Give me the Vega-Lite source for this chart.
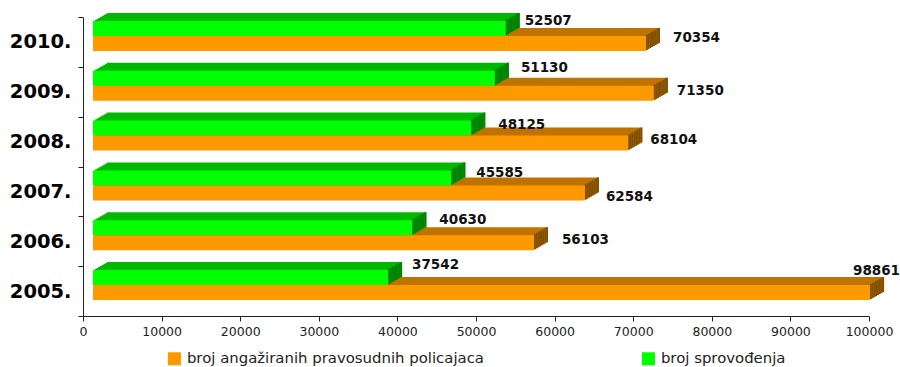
{"$schema":"https://vega.github.io/schema/vega-lite/v6.json","width":786,"height":299,"autosize":{"type":"none"},"padding":{"left":83,"top":17,"right":31,"bottom":51},"background":"white",
"config":{"view":{"stroke":null},"bar":{"stroke":null},"tick":{"opacity":1}},
"data":{"values":[
{"year":"2010.","series":"broj angažiranih pravosudnih policajaca","value":70354},{"year":"2009.","series":"broj angažiranih pravosudnih policajaca","value":71350},{"year":"2008.","series":"broj angažiranih pravosudnih policajaca","value":68104},{"year":"2007.","series":"broj angažiranih pravosudnih policajaca","value":62584},{"year":"2006.","series":"broj angažiranih pravosudnih policajaca","value":56103},{"year":"2005.","series":"broj angažiranih pravosudnih policajaca","value":98861},
{"year":"2010.","series":"broj sprovođenja","value":52507},{"year":"2009.","series":"broj sprovođenja","value":51130},{"year":"2008.","series":"broj sprovođenja","value":48125},{"year":"2007.","series":"broj sprovođenja","value":45585},{"year":"2006.","series":"broj sprovođenja","value":40630},{"year":"2005.","series":"broj sprovođenja","value":37542}]},
"encoding":{
"x":{"field":"value","type":"quantitative","title":null,"scale":{"domain":[0,100000],"nice":false},"axis":{"values":[0,10000,20000,30000,40000,50000,60000,70000,80000,90000,100000],"format":"d","grid":false,"tickSize":5,"tickColor":"#222","domainColor":"#222","labelColor":"#222","labelFont":"DejaVu Sans","labelFontSize":12.5,"labelPadding":4,"labelFlush":false,"labelOverlap":false}},
"y":{"field":"year","type":"nominal","title":null,"sort":["2010.","2009.","2008.","2007.","2006.","2005."],"scale":{"paddingInner":0,"paddingOuter":0},"axis":{"tickBand":"extent","tickSize":5,"tickColor":"#222","domainColor":"#222","labelColor":"#000","labelFont":"DejaVu Sans","labelFontWeight":"bold","labelFontSize":19.5,"labelPadding":7,"labelAngle":0}}},
"layer":[
{"transform":[{"filter":"datum.series=='broj angažiranih pravosudnih policajaca'"}],"layer":[
{"mark":{"type":"bar","size":15,"color":"#BF7300","xOffset":24,"x2Offset":24,"yOffset":-6.5}},{"mark":{"type":"tick","size":15,"thickness":2,"color":"#805000","xOffset":23,"yOffset":-6.5}},
{"mark":{"type":"bar","size":15,"color":"#BF7300","xOffset":22.25,"x2Offset":22.25,"yOffset":-5.5}},{"mark":{"type":"tick","size":15,"thickness":2,"color":"#805000","xOffset":21.25,"yOffset":-5.5}},
{"mark":{"type":"bar","size":15,"color":"#BF7300","xOffset":20.5,"x2Offset":20.5,"yOffset":-4.5}},{"mark":{"type":"tick","size":15,"thickness":2,"color":"#805000","xOffset":19.5,"yOffset":-4.5}},
{"mark":{"type":"bar","size":15,"color":"#BF7300","xOffset":18.75,"x2Offset":18.75,"yOffset":-3.5}},{"mark":{"type":"tick","size":15,"thickness":2,"color":"#805000","xOffset":17.75,"yOffset":-3.5}},
{"mark":{"type":"bar","size":15,"color":"#BF7300","xOffset":17,"x2Offset":17,"yOffset":-2.5}},{"mark":{"type":"tick","size":15,"thickness":2,"color":"#805000","xOffset":16,"yOffset":-2.5}},
{"mark":{"type":"bar","size":15,"color":"#BF7300","xOffset":15.25,"x2Offset":15.25,"yOffset":-1.5}},{"mark":{"type":"tick","size":15,"thickness":2,"color":"#805000","xOffset":14.25,"yOffset":-1.5}},
{"mark":{"type":"bar","size":15,"color":"#BF7300","xOffset":13.5,"x2Offset":13.5,"yOffset":-0.5}},{"mark":{"type":"tick","size":15,"thickness":2,"color":"#805000","xOffset":12.5,"yOffset":-0.5}},
{"mark":{"type":"bar","size":15,"color":"#BF7300","xOffset":11.75,"x2Offset":11.75,"yOffset":0.5}},{"mark":{"type":"tick","size":15,"thickness":2,"color":"#805000","xOffset":10.75,"yOffset":0.5}},
{"mark":{"type":"bar","size":15,"xOffset":10,"x2Offset":10,"yOffset":1.5},"encoding":{"color":{"field":"series","type":"nominal","scale":{"domain":["broj angažiranih pravosudnih policajaca","broj sprovođenja"],"range":["#FF9900","#00FF00"]},"legend":{"title":null,"orient":"none","legendX":84,"legendY":334,"direction":"horizontal","columns":2,"columnPadding":157,"symbolType":"square","symbolSize":169,"symbolStrokeWidth":0,"labelFont":"DejaVu Sans","labelFontSize":14.9,"labelColor":"#222","labelLimit":400,"labelOffset":5,"padding":0}}}}
]},
{"transform":[{"filter":"datum.series=='broj sprovođenja'"}],"layer":[
{"mark":{"type":"bar","size":15,"color":"#00B800","xOffset":24,"x2Offset":24,"yOffset":-21.5}},{"mark":{"type":"tick","size":15,"thickness":2,"color":"#008000","xOffset":23,"yOffset":-21.5}},
{"mark":{"type":"bar","size":15,"color":"#00B800","xOffset":22.25,"x2Offset":22.25,"yOffset":-20.5}},{"mark":{"type":"tick","size":15,"thickness":2,"color":"#008000","xOffset":21.25,"yOffset":-20.5}},
{"mark":{"type":"bar","size":15,"color":"#00B800","xOffset":20.5,"x2Offset":20.5,"yOffset":-19.5}},{"mark":{"type":"tick","size":15,"thickness":2,"color":"#008000","xOffset":19.5,"yOffset":-19.5}},
{"mark":{"type":"bar","size":15,"color":"#00B800","xOffset":18.75,"x2Offset":18.75,"yOffset":-18.5}},{"mark":{"type":"tick","size":15,"thickness":2,"color":"#008000","xOffset":17.75,"yOffset":-18.5}},
{"mark":{"type":"bar","size":15,"color":"#00B800","xOffset":17,"x2Offset":17,"yOffset":-17.5}},{"mark":{"type":"tick","size":15,"thickness":2,"color":"#008000","xOffset":16,"yOffset":-17.5}},
{"mark":{"type":"bar","size":15,"color":"#00B800","xOffset":15.25,"x2Offset":15.25,"yOffset":-16.5}},{"mark":{"type":"tick","size":15,"thickness":2,"color":"#008000","xOffset":14.25,"yOffset":-16.5}},
{"mark":{"type":"bar","size":15,"color":"#00B800","xOffset":13.5,"x2Offset":13.5,"yOffset":-15.5}},{"mark":{"type":"tick","size":15,"thickness":2,"color":"#008000","xOffset":12.5,"yOffset":-15.5}},
{"mark":{"type":"bar","size":15,"color":"#00B800","xOffset":11.75,"x2Offset":11.75,"yOffset":-14.5}},{"mark":{"type":"tick","size":15,"thickness":2,"color":"#008000","xOffset":10.75,"yOffset":-14.5}},
{"mark":{"type":"bar","size":15,"xOffset":10,"x2Offset":10,"yOffset":-13.5},"encoding":{"color":{"field":"series","type":"nominal"}}}
]},
{"transform":[{"filter":"datum.value==52507"}],"mark":{"type":"text","align":"left","baseline":"middle","font":"DejaVu Sans","fontWeight":"bold","fontSize":13.5,"color":"#111","dx":29,"dy":-21},"encoding":{"text":{"field":"value","type":"nominal"}}},
{"transform":[{"filter":"datum.value==70354"}],"mark":{"type":"text","align":"left","baseline":"middle","font":"DejaVu Sans","fontWeight":"bold","fontSize":13.5,"color":"#111","dx":37,"dy":-4},"encoding":{"text":{"field":"value","type":"nominal"}}},
{"transform":[{"filter":"datum.value==51130"}],"mark":{"type":"text","align":"left","baseline":"middle","font":"DejaVu Sans","fontWeight":"bold","fontSize":13.5,"color":"#111","dx":36,"dy":-24},"encoding":{"text":{"field":"value","type":"nominal"}}},
{"transform":[{"filter":"datum.value==71350"}],"mark":{"type":"text","align":"left","baseline":"middle","font":"DejaVu Sans","fontWeight":"bold","fontSize":13.5,"color":"#111","dx":33,"dy":-1},"encoding":{"text":{"field":"value","type":"nominal"}}},
{"transform":[{"filter":"datum.value==48125"}],"mark":{"type":"text","align":"left","baseline":"middle","font":"DejaVu Sans","fontWeight":"bold","fontSize":13.5,"color":"#111","dx":37,"dy":-17},"encoding":{"text":{"field":"value","type":"nominal"}}},
{"transform":[{"filter":"datum.value==68104"}],"mark":{"type":"text","align":"left","baseline":"middle","font":"DejaVu Sans","fontWeight":"bold","fontSize":13.5,"color":"#111","dx":32,"dy":-2},"encoding":{"text":{"field":"value","type":"nominal"}}},
{"transform":[{"filter":"datum.value==45585"}],"mark":{"type":"text","align":"left","baseline":"middle","font":"DejaVu Sans","fontWeight":"bold","fontSize":13.5,"color":"#111","dx":35,"dy":-18},"encoding":{"text":{"field":"value","type":"nominal"}}},
{"transform":[{"filter":"datum.value==62584"}],"mark":{"type":"text","align":"left","baseline":"middle","font":"DejaVu Sans","fontWeight":"bold","fontSize":13.5,"color":"#111","dx":31,"dy":6},"encoding":{"text":{"field":"value","type":"nominal"}}},
{"transform":[{"filter":"datum.value==40630"}],"mark":{"type":"text","align":"left","baseline":"middle","font":"DejaVu Sans","fontWeight":"bold","fontSize":13.5,"color":"#111","dx":37,"dy":-21},"encoding":{"text":{"field":"value","type":"nominal"}}},
{"transform":[{"filter":"datum.value==56103"}],"mark":{"type":"text","align":"left","baseline":"middle","font":"DejaVu Sans","fontWeight":"bold","fontSize":13.5,"color":"#111","dx":38,"dy":-1},"encoding":{"text":{"field":"value","type":"nominal"}}},
{"transform":[{"filter":"datum.value==37542"}],"mark":{"type":"text","align":"left","baseline":"middle","font":"DejaVu Sans","fontWeight":"bold","fontSize":13.5,"color":"#111","dx":34,"dy":-26},"encoding":{"text":{"field":"value","type":"nominal"}}},
{"transform":[{"filter":"datum.value==98861"}],"mark":{"type":"text","align":"left","baseline":"middle","font":"DejaVu Sans","fontWeight":"bold","fontSize":13.5,"color":"#111","dx":-7,"dy":-20},"encoding":{"text":{"field":"value","type":"nominal"}}}
]}
